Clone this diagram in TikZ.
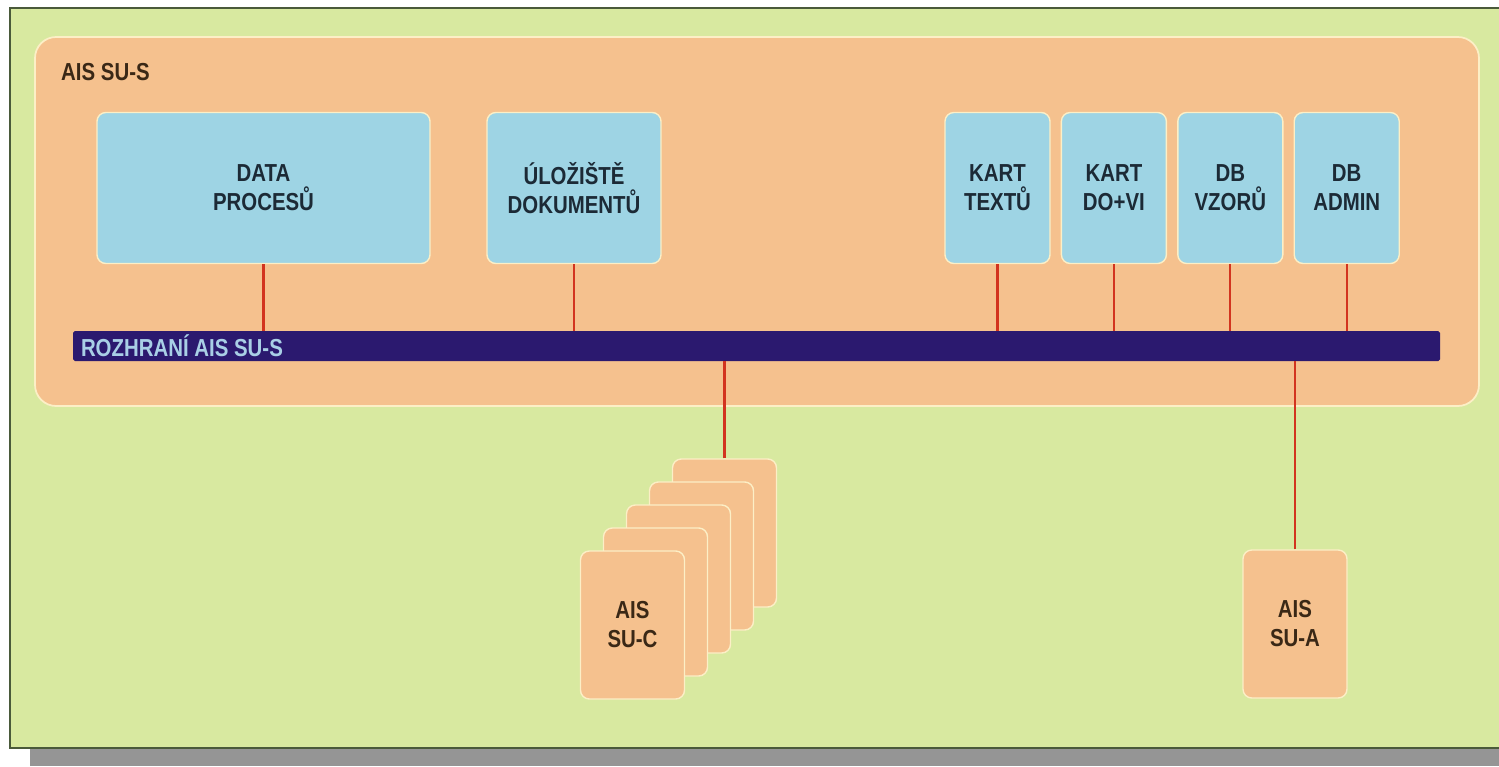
\documentclass[tikz,border=0pt]{standalone}
\usepackage{fontspec}
\newfontfamily\diafont{Liberation Sans}[FakeStretch=0.83]
\usetikzlibrary{positioning}
\definecolor{bggreen}{HTML}{D8E9A0}
\definecolor{edgedark}{HTML}{4A5A3A}
\definecolor{shadowgray}{HTML}{959595}
\definecolor{sysorange}{HTML}{F5C18E}
\definecolor{storeblue}{HTML}{9ED4E4}
\definecolor{cream}{HTML}{FCEFC6}
\definecolor{busblue}{HTML}{2B196F}
\definecolor{buslabel}{HTML}{A9CFE6}
\definecolor{linkred}{HTML}{D2341F}
\definecolor{storetext}{HTML}{1C2A36}
\definecolor{systext}{HTML}{3A2816}

\begin{document}
\begin{tikzpicture}[
    every node/.style={font=\diafont\bfseries\fontsize{14}{16.5}\selectfont, align=center},
    store/.style={rectangle, rounded corners=5, fill=storeblue, draw=cream, line width=0.8, text=storetext, minimum height=3.02cm},
    system/.style={rectangle, rounded corners=5, fill=sysorange, draw=cream, line width=0.8, text=systext, minimum width=2.08cm, minimum height=2.96cm},
    link/.style={draw=linkred, line width=1.3},
    ]

    \useasboundingbox (0,0) rectangle (29.98,-15.32);
    \fill [shadowgray] (0.6,-14.96) rectangle (29.98,-15.32);
    \fill [bggreen] (0.2,-0.16) rectangle (29.98,-14.96);
    \draw [edgedark, line width=1] (29.98,-0.16) -- (0.2,-0.16) -- (0.2,-14.96) -- (29.98,-14.96);

    % AIS SU-S
    \node (suss) [rectangle, rounded corners=12, fill=sysorange, draw=cream, line width=1,
        minimum width=28.88cm, minimum height=7.38cm] at (15.14,-4.43) {};
    \node [anchor=west, text=systext] at (1.1,-1.44) {AIS SU-S};

    \node (data) [store, minimum width=6.66cm] at (5.27,-3.76) {DATA\\PROCESŮ};
    \node (dok) [store, minimum width=3.48cm] at (11.48,-3.76) {ÚLOŽIŠTĚ\\DOKUMENTŮ};
    \node (kt) [store, minimum width=2.1cm] at (19.95,-3.76) {KART\\TEXTŮ};
    \node (kd) [store, minimum width=2.1cm, right=0.2cm of kt] {KART\\DO+VI};
    \node (vz) [store, minimum width=2.1cm, right=0.2cm of kd] {DB\\VZORŮ};
    \node (adm) [store, minimum width=2.1cm, right=0.2cm of vz] {DB\\ADMIN};

    \node (bus) [rectangle, rounded corners=1, fill=busblue, minimum width=27.34cm, minimum height=0.6cm] at (15.13,-6.92) {};
    \node [anchor=west, inner sep=0, text=buslabel, xshift=0.16cm] at (bus.west) {ROZHRANÍ AIS SU-S};

    \foreach \n in {data, dok, kt, kd, vz, adm} {
        \draw [link] (\n.south) -- (\n.south |- bus.north);
    }

    % AIS SU-C, stacked
    \foreach \i in {4,3,2,1} {
        \node (suc\i) [system] at ({12.65+0.46*\i}, {-12.5+0.46*\i}) {};
    }
    \node (suc) [system] at (12.65,-12.5) {AIS\\SU-C};
    \node (sua) [system] at (25.9,-12.48) {AIS\\SU-A};

    \draw [link] (suc4.north) -- (suc4.north |- bus.south);
    \draw [link] (sua.north) -- (sua.north |- bus.south);
\end{tikzpicture}
\end{document}
